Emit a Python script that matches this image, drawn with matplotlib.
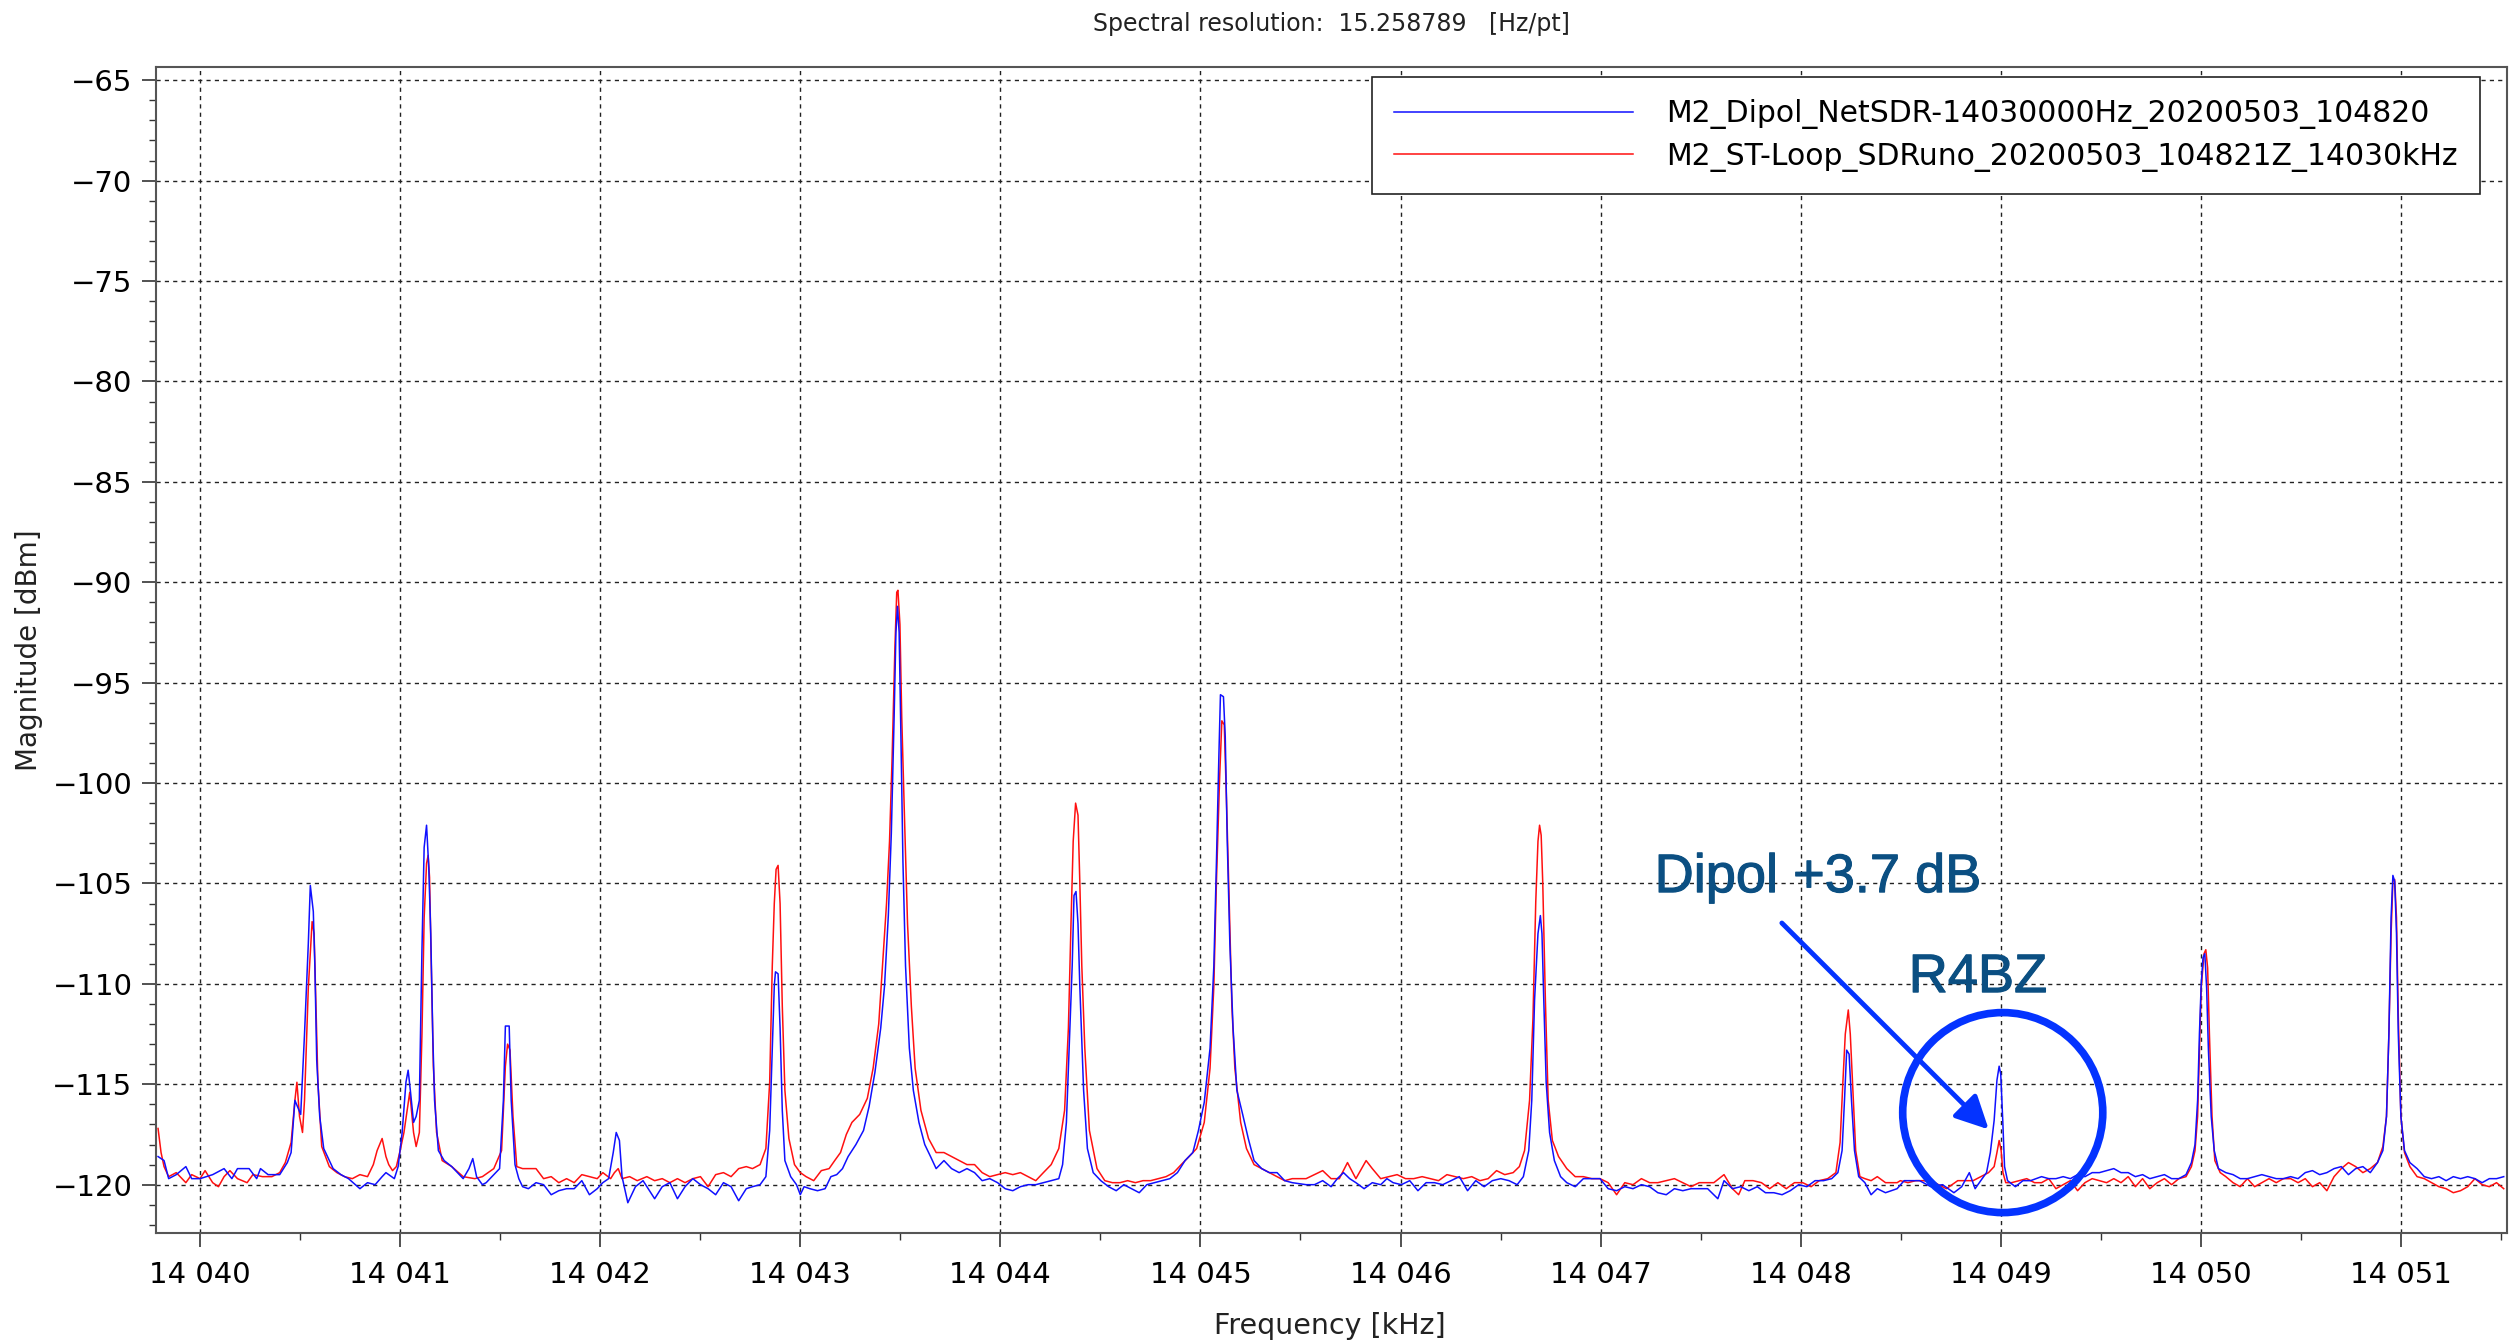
import matplotlib
matplotlib.use("Agg")
import matplotlib.pyplot as plt
import matplotlib.patheffects as pe
from matplotlib.patches import Ellipse
from matplotlib.ticker import MultipleLocator, FuncFormatter

title_text = "Spectral resolution:  15.258789   [Hz/pt]"
legend_labels = ["M2_Dipol_NetSDR-14030000Hz_20200503_104820",
                 "M2_ST-Loop_SDRuno_20200503_104821Z_14030kHz"]

# (frequency kHz, magnitude dBm)
dipol = [
    (14039.790, -118.6), (14039.820, -118.8), (14039.843, -119.7), (14039.881, -119.5),
    (14039.929, -119.1), (14039.958, -119.7), (14040.000, -119.7), (14040.063, -119.5),
    (14040.120, -119.2), (14040.159, -119.7), (14040.187, -119.2), (14040.245, -119.2),
    (14040.283, -119.7), (14040.302, -119.2), (14040.340, -119.5), (14040.398, -119.5),
    (14040.436, -118.9), (14040.455, -118.4), (14040.474, -115.8), (14040.503, -116.5),
    (14040.522, -112.5), (14040.541, -108.0), (14040.551, -105.1), (14040.566, -106.4),
    (14040.574, -109.2), (14040.583, -113.8), (14040.598, -116.6), (14040.618, -118.2),
    (14040.646, -118.8), (14040.665, -119.2), (14040.704, -119.5), (14040.742, -119.7),
    (14040.799, -120.2), (14040.837, -119.9), (14040.875, -120.0), (14040.910, -119.6),
    (14040.929, -119.4), (14040.971, -119.7), (14040.990, -119.1), (14041.010, -117.4),
    (14041.029, -114.9), (14041.040, -114.3), (14041.052, -115.4), (14041.067, -116.9),
    (14041.080, -116.6), (14041.096, -115.8), (14041.109, -108.3), (14041.120, -103.2),
    (14041.132, -102.1), (14041.143, -104.2), (14041.153, -107.5), (14041.163, -112.5),
    (14041.172, -115.8), (14041.191, -118.3), (14041.220, -118.8), (14041.258, -119.1),
    (14041.315, -119.7), (14041.344, -119.2), (14041.363, -118.7), (14041.382, -119.6),
    (14041.411, -120.0), (14041.430, -119.9), (14041.497, -119.2), (14041.516, -115.8),
    (14041.526, -112.1), (14041.545, -112.1), (14041.555, -115.8), (14041.574, -119.0),
    (14041.593, -119.7), (14041.612, -120.1), (14041.641, -120.2), (14041.679, -119.9),
    (14041.717, -120.0), (14041.755, -120.5), (14041.793, -120.3), (14041.832, -120.2),
    (14041.870, -120.2), (14041.908, -119.8), (14041.946, -120.5), (14041.985, -120.2),
    (14042.013, -119.9), (14042.042, -119.7), (14042.065, -118.4), (14042.080, -117.4),
    (14042.096, -117.8), (14042.109, -119.6), (14042.138, -120.9), (14042.176, -120.1),
    (14042.214, -119.8), (14042.272, -120.7), (14042.310, -120.1), (14042.348, -119.9),
    (14042.386, -120.7), (14042.424, -120.1), (14042.463, -119.7), (14042.501, -120.0),
    (14042.539, -120.2), (14042.577, -120.5), (14042.616, -119.9), (14042.654, -120.1),
    (14042.692, -120.8), (14042.730, -120.2),
    (14042.761, -120.1), (14042.799, -120.0), (14042.828, -119.6), (14042.847, -117.3),
    (14042.860, -113.2), (14042.870, -110.1), (14042.876, -109.4), (14042.889, -109.5),
    (14042.899, -112.2), (14042.910, -116.3), (14042.923, -118.8), (14042.952, -119.6),
    (14042.981, -120.0), (14043.000, -120.5), (14043.019, -120.1), (14043.048, -120.2),
    (14043.086, -120.3), (14043.124, -120.2), (14043.153, -119.6), (14043.182, -119.5),
    (14043.211, -119.2), (14043.239, -118.6), (14043.278, -118.0), (14043.316, -117.3),
    (14043.344, -116.1), (14043.373, -114.4), (14043.402, -112.2), (14043.421, -110.1),
    (14043.440, -106.6), (14043.455, -102.5), (14043.469, -96.7), (14043.478, -92.5),
    (14043.486, -91.2), (14043.494, -92.5), (14043.503, -97.7), (14043.513, -103.9),
    (14043.526, -109.1), (14043.545, -113.2), (14043.565, -115.3), (14043.593, -116.9),
    (14043.622, -118.0), (14043.651, -118.6), (14043.679, -119.2), (14043.718, -118.8),
    (14043.756, -119.2), (14043.794, -119.4), (14043.833, -119.2), (14043.871, -119.4),
    (14043.909, -119.8), (14043.947, -119.7), (14043.986, -119.9), (14044.024, -120.2),
    (14044.062, -120.3), (14044.100, -120.1), (14044.139, -120.0), (14044.177, -120.0),
    (14044.215, -119.9), (14044.254, -119.8), (14044.292, -119.7), (14044.311, -119.0),
    (14044.330, -116.9), (14044.344, -113.2), (14044.359, -109.1), (14044.368, -105.6),
    (14044.378, -105.4), (14044.388, -107.0), (14044.397, -110.1), (14044.416, -115.3),
    (14044.435, -118.2), (14044.464, -119.4), (14044.502, -119.8), (14044.541, -120.1),
    (14044.579, -120.3), (14044.617, -120.0), (14044.656, -120.2), (14044.694, -120.4),
    (14044.732, -120.0), (14044.770, -119.9), (14044.809, -119.8), (14044.847, -119.7),
    (14044.885, -119.4), (14044.923, -118.8), (14044.962, -118.4), (14044.990, -117.3),
    (14045.019, -115.9), (14045.048, -113.2), (14045.067, -109.1), (14045.080, -103.9),
    (14045.092, -98.7), (14045.100, -95.6), (14045.115, -95.7), (14045.124, -97.7),
    (14045.134, -102.9), (14045.147, -108.0), (14045.163, -112.2), (14045.182, -115.3),
    (14045.211, -116.5), (14045.239, -117.7), (14045.268, -118.8), (14045.306, -119.2),
    (14045.344, -119.4), (14045.383, -119.4), (14045.421, -119.8), (14045.459, -119.9),
    (14045.528, -120.0), (14045.570, -120.0), (14045.611, -119.8), (14045.653, -120.1),
    (14045.684, -119.7), (14045.715, -119.4), (14045.746, -119.7), (14045.777, -119.9),
    (14045.818, -120.2), (14045.859, -119.9), (14045.901, -120.0), (14045.932, -119.7),
    (14045.963, -119.9), (14046.004, -120.0), (14046.046, -119.8), (14046.087, -120.3),
    (14046.128, -119.9), (14046.170, -119.9), (14046.211, -120.0), (14046.252, -119.8),
    (14046.294, -119.6), (14046.335, -120.3), (14046.376, -119.8), (14046.418, -120.1),
    (14046.459, -119.8), (14046.501, -119.7), (14046.542, -119.8), (14046.583, -120.0),
    (14046.614, -119.6), (14046.641, -118.3), (14046.656, -115.8), (14046.670, -110.8),
    (14046.687, -107.5), (14046.699, -106.6), (14046.707, -107.5), (14046.716, -110.8),
    (14046.728, -114.9), (14046.745, -117.4), (14046.769, -118.8), (14046.800, -119.6),
    (14046.831, -119.9), (14046.873, -120.1), (14046.914, -119.7), (14046.956, -119.7),
    (14046.997, -119.7), (14047.038, -120.2), (14047.080, -120.3), (14047.121, -120.1),
    (14047.162, -120.2), (14047.204, -120.0), (14047.245, -120.1), (14047.286, -120.4),
    (14047.328, -120.5), (14047.369, -120.2), (14047.411, -120.3), (14047.452, -120.2),
    (14047.493, -120.2), (14047.535, -120.2), (14047.566, -120.5), (14047.586, -120.7),
    (14047.617, -119.8), (14047.659, -120.2), (14047.700, -120.1), (14047.741, -120.3),
    (14047.783, -120.1), (14047.824, -120.4), (14047.866, -120.4), (14047.907, -120.5),
    (14047.948, -120.3), (14047.990, -120.0), (14048.031, -120.1), (14048.072, -119.8),
    (14048.114, -119.8), (14048.155, -119.7), (14048.186, -119.4), (14048.207, -118.3),
    (14048.219, -115.8), (14048.230, -113.3), (14048.242, -113.5), (14048.254, -115.8),
    (14048.269, -118.3), (14048.290, -119.6), (14048.321, -119.9), (14048.352, -120.5),
    (14048.383, -120.2), (14048.424, -120.4), (14048.482, -120.2),
    (14048.517, -119.8), (14048.594, -119.8), (14048.651, -120.1), (14048.709, -120.0),
    (14048.766, -120.4), (14048.805, -120.1), (14048.843, -119.4), (14048.872, -120.2),
    (14048.900, -119.8), (14048.929, -119.4), (14048.948, -118.4), (14048.967, -116.8),
    (14048.981, -114.8), (14048.992, -114.1), (14049.000, -114.5), (14049.010, -116.8),
    (14049.019, -119.1), (14049.034, -119.8), (14049.073, -120.1), (14049.111, -119.8),
    (14049.149, -119.8),
    (14049.204, -119.6), (14049.240, -119.7), (14049.276, -119.7), (14049.312, -119.6),
    (14049.348, -119.7), (14049.384, -119.5), (14049.421, -119.6), (14049.457, -119.4),
    (14049.493, -119.4), (14049.529, -119.3), (14049.565, -119.2), (14049.601, -119.4),
    (14049.637, -119.4), (14049.673, -119.6), (14049.709, -119.5), (14049.745, -119.7),
    (14049.782, -119.6), (14049.818, -119.5), (14049.854, -119.7), (14049.890, -119.7),
    (14049.926, -119.5), (14049.953, -118.9), (14049.971, -118.0), (14049.984, -115.8),
    (14049.993, -112.5), (14050.002, -110.0), (14050.011, -108.7), (14050.020, -108.5),
    (14050.029, -110.2), (14050.038, -113.3), (14050.052, -116.6), (14050.067, -118.3),
    (14050.088, -119.2), (14050.125, -119.4), (14050.161, -119.5), (14050.197, -119.7),
    (14050.233, -119.7), (14050.269, -119.6), (14050.305, -119.5), (14050.341, -119.6),
    (14050.377, -119.7), (14050.413, -119.7), (14050.449, -119.6), (14050.486, -119.7),
    (14050.522, -119.4), (14050.558, -119.3), (14050.594, -119.5), (14050.630, -119.4),
    (14050.666, -119.2), (14050.702, -119.1), (14050.738, -119.5), (14050.774, -119.2),
    (14050.810, -119.1), (14050.847, -119.4), (14050.883, -118.9), (14050.910, -118.3),
    (14050.928, -116.6), (14050.940, -112.5), (14050.951, -106.7), (14050.960, -104.6),
    (14050.969, -104.9), (14050.978, -107.5), (14050.987, -112.5), (14051.000, -116.6),
    (14051.018, -118.3), (14051.045, -118.9), (14051.081, -119.2), (14051.117, -119.6),
    (14051.153, -119.7), (14051.190, -119.6), (14051.226, -119.8), (14051.262, -119.6),
    (14051.298, -119.7), (14051.334, -119.6), (14051.370, -119.7), (14051.406, -119.9),
    (14051.442, -119.7), (14051.478, -119.7), (14051.514, -119.6),
]

loop = [
    (14039.790, -117.2), (14039.805, -118.4), (14039.820, -119.1), (14039.843, -119.6),
    (14039.881, -119.4), (14039.929, -119.9), (14039.958, -119.5), (14040.000, -119.7),
    (14040.025, -119.3), (14040.063, -119.9), (14040.092, -120.1), (14040.120, -119.6),
    (14040.149, -119.3), (14040.187, -119.7), (14040.235, -119.9), (14040.264, -119.5),
    (14040.312, -119.6), (14040.359, -119.6), (14040.398, -119.4), (14040.426, -118.9),
    (14040.455, -117.9), (14040.474, -115.8), (14040.484, -114.9), (14040.497, -116.6),
    (14040.512, -117.4), (14040.522, -115.8), (14040.541, -110.2), (14040.560, -106.9),
    (14040.570, -107.5), (14040.579, -111.1), (14040.589, -114.9), (14040.608, -118.1),
    (14040.646, -119.1), (14040.684, -119.4), (14040.722, -119.6), (14040.761, -119.7),
    (14040.799, -119.5), (14040.837, -119.6), (14040.866, -119.0), (14040.885, -118.3),
    (14040.910, -117.7), (14040.929, -118.6), (14040.943, -119.0), (14040.962, -119.3),
    (14040.981, -119.1), (14041.000, -118.3), (14041.019, -117.4), (14041.048, -115.4),
    (14041.067, -117.4), (14041.080, -118.1), (14041.096, -117.4), (14041.109, -112.5),
    (14041.120, -106.7), (14041.132, -104.0), (14041.140, -103.6), (14041.147, -104.7),
    (14041.155, -108.8), (14041.166, -114.1), (14041.182, -117.4), (14041.210, -118.8),
    (14041.258, -119.1), (14041.315, -119.6), (14041.373, -119.7), (14041.411, -119.6),
    (14041.468, -119.2), (14041.507, -118.3), (14041.526, -114.1), (14041.537, -113.0),
    (14041.549, -113.3), (14041.564, -116.6), (14041.583, -119.1), (14041.612, -119.2),
    (14041.641, -119.2), (14041.679, -119.2), (14041.717, -119.7), (14041.755, -119.6),
    (14041.793, -119.9), (14041.832, -119.7), (14041.870, -119.9), (14041.908, -119.5),
    (14041.946, -119.6), (14041.985, -119.7), (14042.013, -119.4), (14042.052, -119.7),
    (14042.071, -119.4), (14042.090, -119.2), (14042.109, -119.7), (14042.147, -119.6),
    (14042.185, -119.8), (14042.233, -119.6), (14042.272, -119.8), (14042.310, -119.7),
    (14042.348, -119.9), (14042.386, -119.7), (14042.424, -119.9), (14042.463, -119.7),
    (14042.501, -119.6), (14042.539, -120.1), (14042.577, -119.5), (14042.616, -119.4),
    (14042.654, -119.6), (14042.692, -119.2), (14042.730, -119.1),
    (14042.761, -119.2), (14042.799, -119.0), (14042.828, -118.2), (14042.847, -114.9),
    (14042.860, -109.1), (14042.870, -106.0), (14042.879, -104.3), (14042.889, -104.1),
    (14042.899, -106.0), (14042.910, -111.1), (14042.923, -115.3), (14042.943, -117.7),
    (14042.971, -119.0), (14043.000, -119.4), (14043.029, -119.6), (14043.067, -119.8),
    (14043.105, -119.3), (14043.144, -119.2), (14043.172, -118.8), (14043.201, -118.4),
    (14043.230, -117.5), (14043.258, -116.9), (14043.297, -116.5), (14043.335, -115.7),
    (14043.364, -114.2), (14043.392, -112.0), (14043.411, -109.1), (14043.431, -106.0),
    (14043.446, -102.9), (14043.459, -98.7), (14043.473, -93.2), (14043.482, -90.5),
    (14043.488, -90.4), (14043.498, -92.1), (14043.507, -96.7), (14043.521, -101.8),
    (14043.536, -107.0), (14043.555, -111.1), (14043.574, -114.2), (14043.603, -116.3),
    (14043.641, -117.7), (14043.679, -118.4), (14043.718, -118.4), (14043.756, -118.6),
    (14043.794, -118.8), (14043.833, -119.0), (14043.871, -119.0), (14043.909, -119.4),
    (14043.947, -119.6), (14043.986, -119.5), (14044.024, -119.4), (14044.062, -119.5),
    (14044.100, -119.4), (14044.139, -119.6), (14044.177, -119.8), (14044.215, -119.4),
    (14044.254, -119.0), (14044.292, -118.2), (14044.321, -116.3), (14044.340, -112.2),
    (14044.353, -107.0), (14044.364, -102.9), (14044.376, -101.0), (14044.388, -101.6),
    (14044.397, -104.9), (14044.407, -109.1), (14044.422, -113.2), (14044.445, -117.3),
    (14044.483, -119.2), (14044.522, -119.8), (14044.560, -119.9), (14044.598, -119.9),
    (14044.636, -119.8), (14044.675, -119.9), (14044.713, -119.8), (14044.751, -119.8),
    (14044.789, -119.7), (14044.828, -119.6), (14044.866, -119.4), (14044.904, -119.0),
    (14044.943, -118.6), (14044.981, -118.2), (14045.019, -116.9), (14045.048, -114.2),
    (14045.067, -110.1), (14045.080, -104.9), (14045.096, -99.7), (14045.107, -96.9),
    (14045.119, -97.1), (14045.130, -100.8), (14045.144, -106.0), (14045.157, -111.1),
    (14045.172, -114.2), (14045.201, -116.9), (14045.230, -118.2), (14045.268, -119.0),
    (14045.306, -119.2), (14045.344, -119.4), (14045.383, -119.6), (14045.421, -119.8),
    (14045.459, -119.7),
    (14045.528, -119.7), (14045.570, -119.5), (14045.611, -119.3), (14045.653, -119.7),
    (14045.694, -119.7), (14045.735, -118.9), (14045.777, -119.7), (14045.828, -118.8),
    (14045.859, -119.2), (14045.901, -119.7), (14045.942, -119.6), (14045.983, -119.5),
    (14046.025, -119.7), (14046.066, -119.7), (14046.108, -119.6), (14046.149, -119.7),
    (14046.190, -119.8), (14046.232, -119.5), (14046.273, -119.6), (14046.314, -119.7),
    (14046.356, -119.6), (14046.397, -119.8), (14046.438, -119.7), (14046.480, -119.3),
    (14046.521, -119.5), (14046.563, -119.4), (14046.594, -119.1), (14046.620, -118.3),
    (14046.645, -115.8), (14046.662, -111.7), (14046.676, -105.9), (14046.687, -102.9),
    (14046.695, -102.1), (14046.703, -102.6), (14046.711, -105.0), (14046.724, -110.8),
    (14046.738, -115.8), (14046.759, -117.8), (14046.790, -118.6), (14046.831, -119.2),
    (14046.873, -119.6), (14046.914, -119.6), (14046.956, -119.7), (14046.997, -119.7),
    (14047.038, -119.9), (14047.080, -120.5), (14047.121, -119.9), (14047.162, -120.0),
    (14047.204, -119.7), (14047.245, -119.9), (14047.286, -119.9), (14047.328, -119.8),
    (14047.369, -119.7), (14047.411, -119.9), (14047.452, -120.1), (14047.493, -119.9),
    (14047.535, -119.9), (14047.566, -119.9), (14047.617, -119.5), (14047.659, -120.2),
    (14047.690, -120.5), (14047.721, -119.8), (14047.762, -119.8), (14047.804, -119.9),
    (14047.845, -120.2), (14047.886, -119.9), (14047.928, -120.2), (14047.969, -119.9),
    (14048.010, -119.9), (14048.052, -120.1), (14048.093, -119.8), (14048.135, -119.7),
    (14048.176, -119.4), (14048.197, -117.9), (14048.211, -114.9), (14048.223, -112.5),
    (14048.238, -111.3), (14048.248, -112.5), (14048.259, -114.9), (14048.275, -118.3),
    (14048.296, -119.6), (14048.321, -119.7), (14048.352, -119.8), (14048.383, -119.6),
    (14048.424, -119.9), (14048.482, -119.9),
    (14048.498, -119.8), (14048.536, -119.9), (14048.575, -119.8), (14048.613, -119.8),
    (14048.670, -119.9), (14048.728, -120.2), (14048.785, -119.8), (14048.824, -119.8),
    (14048.862, -119.8), (14048.900, -119.6), (14048.939, -119.4), (14048.967, -119.1),
    (14048.981, -118.4), (14048.992, -117.8), (14049.002, -118.3), (14049.011, -119.4),
    (14049.025, -119.9), (14049.054, -119.9), (14049.092, -119.8), (14049.130, -119.7),
    (14049.169, -119.9),
    (14049.204, -119.9), (14049.240, -119.7), (14049.276, -120.2), (14049.312, -120.0),
    (14049.348, -119.8), (14049.384, -120.3), (14049.421, -119.9), (14049.457, -119.7),
    (14049.493, -119.8), (14049.529, -119.9), (14049.565, -119.7), (14049.601, -119.9),
    (14049.637, -119.6), (14049.673, -120.1), (14049.709, -119.7), (14049.745, -120.2),
    (14049.782, -119.9), (14049.818, -119.7), (14049.854, -120.0), (14049.890, -119.7),
    (14049.926, -119.6), (14049.953, -119.1), (14049.971, -118.3), (14049.984, -116.6),
    (14049.993, -113.3), (14050.002, -110.2), (14050.016, -108.5), (14050.025, -108.3),
    (14050.034, -109.2), (14050.043, -112.5), (14050.056, -116.6), (14050.070, -118.8),
    (14050.097, -119.4), (14050.125, -119.6), (14050.161, -119.9), (14050.197, -120.1),
    (14050.233, -119.7), (14050.269, -120.1), (14050.305, -119.9), (14050.341, -119.7),
    (14050.377, -119.9), (14050.413, -119.7), (14050.449, -119.7), (14050.486, -119.9),
    (14050.522, -119.7), (14050.558, -120.1), (14050.594, -119.9), (14050.630, -120.3),
    (14050.666, -119.6), (14050.702, -119.2), (14050.738, -118.9), (14050.774, -119.1),
    (14050.810, -119.4), (14050.847, -119.2), (14050.883, -118.9), (14050.910, -118.1),
    (14050.928, -116.6), (14050.940, -112.5), (14050.951, -107.5), (14050.960, -104.9),
    (14050.969, -104.8), (14050.978, -106.7), (14050.987, -111.6), (14051.000, -116.6),
    (14051.018, -118.4), (14051.045, -119.1), (14051.081, -119.6), (14051.117, -119.7),
    (14051.153, -119.9), (14051.190, -120.1), (14051.226, -120.2), (14051.262, -120.4),
    (14051.298, -120.3), (14051.334, -120.1), (14051.370, -119.7), (14051.406, -120.0),
    (14051.442, -120.1), (14051.478, -119.9), (14051.514, -120.2),
]

fig = plt.figure(figsize=(25.17, 13.43), dpi=100)
ax = fig.add_axes([0.062, 0.082, 0.934, 0.868])

fx, fy = zip(*dipol)
ax.plot(fx, fy, color="#1010ff", lw=1.1, label=legend_labels[0], zorder=3)
fx, fy = zip(*loop)
ax.plot(fx, fy, color="#ff1010", lw=1.1, label=legend_labels[1], zorder=2)

ax.set_xlim(14039.78, 14051.53)
ax.set_ylim(-122.4, -64.35)
ax.xaxis.set_major_locator(MultipleLocator(1))
ax.xaxis.set_minor_locator(MultipleLocator(0.5))
ax.yaxis.set_major_locator(MultipleLocator(5))
ax.yaxis.set_minor_locator(MultipleLocator(1))
ax.xaxis.set_major_formatter(FuncFormatter(lambda v, p: f"{int(round(v)):,}".replace(",", " ")))

ax.grid(True, which="major", color="#222222", linestyle=(0, (3, 3)), linewidth=1.0)
ax.set_axisbelow(True)
ax.tick_params(which="major", direction="out", length=10, width=1.2, color="#333333", labelsize=21)
ax.tick_params(which="minor", direction="out", length=5, width=1.0, color="#333333")
ax.tick_params(axis="x", pad=10)
ax.tick_params(axis="y", pad=7)
for s in ax.spines.values():
    s.set_color("#555555")
    s.set_linewidth(1.5)

fig.text(0.529, 1 - 24 / 1343, title_text, ha="center", va="center", fontsize=17, color="#222222")
fig.text(0.5285, 1 - 1326 / 1343, "Frequency [kHz]", ha="center", va="center", fontsize=20.5, color="#222222")
fig.text(29 / 2517, 0.516, "Magnitude [dBm]", ha="center", va="center", rotation=90, fontsize=20, color="#222222")

leg = ax.legend(loc="upper right", bbox_to_anchor=(2480 / 2517, 1 - 77 / 1343),
                bbox_transform=fig.transFigure, fontsize=21.5, handlelength=8.0,
                handletextpad=1.1, borderpad=0.75, labelspacing=0.42, fancybox=False,
                edgecolor="#222222", framealpha=1, borderaxespad=0)
leg.get_frame().set_linewidth(1.2)

# annotation for the weak R4BZ signal
note_fx = [pe.withStroke(linewidth=0.8, foreground="#0b4f82")]
ax.text(14047.27, -105.43, "Dipol +3.7 dB", fontsize=39, color="#0b4f82",
        family="Liberation Sans", ha="left", va="baseline", zorder=5, path_effects=note_fx)
ax.text(14048.54, -110.41, "R4BZ", fontsize=39, color="#0b4f82",
        family="Liberation Sans", ha="left", va="baseline", zorder=5, path_effects=note_fx)
ax.annotate("", xy=(14048.94, -117.25), xytext=(14047.906, -106.97),
            arrowprops=dict(arrowstyle="-|>,head_length=2.0,head_width=1.0",
                            color="#0433ff", lw=3.5, shrinkA=0, shrinkB=0), zorder=5)
ax.add_patch(Ellipse((14049.01, -116.41), width=1.0, height=9.96, fill=False,
                     edgecolor="#0433ff", lw=5.5, zorder=5))

fig.savefig("out.png", dpi=100)
